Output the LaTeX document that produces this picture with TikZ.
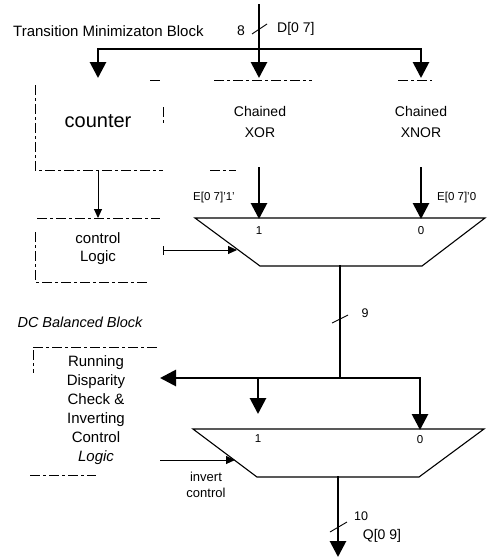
\documentclass[tikz,border=0pt]{standalone}
\usepackage{fontspec}
\setmainfont{Liberation Sans}
\usetikzlibrary{arrows.meta}
\begin{document}
\begin{tikzpicture}[x=1pt,y=-1pt,
  bus/.style={line width=2.8pt,line cap=rect},
  thinline/.style={line width=0.9pt},
  bigtip/.style={-{Triangle[width=16pt,length=16pt]}},
  smalltip/.style={-{Triangle[width=8pt,length=9pt]}},
  dsh/.style={line width=0.8pt,dash pattern=on 10pt off 3pt on 3pt off 3pt},
  lbl/.style={inner sep=0pt,font=\fontsize{11.5}{13}\selectfont},
  biglbl/.style={inner sep=0pt,font=\fontsize{14}{16}\selectfont},
  muxline/.style={line width=1.1pt,line join=miter}]
\useasboundingbox (0,0) rectangle (500,557);

% ---------- coordinates ----------
\coordinate (Din) at (259,5);
\coordinate (Dj) at (259,49);
\coordinate (bl) at (98,49);
\coordinate (br) at (421,49);
\coordinate (cntIn) at (98,78);
\coordinate (xorIn) at (259,78);
\coordinate (xnorIn) at (421,78);
\coordinate (cntOut) at (98,170);
\coordinate (ctlIn) at (98,218);
\coordinate (xorOut) at (259,168);
\coordinate (xnorOut) at (421,168);
% mux 1
\coordinate (m1a) at (195,218);
\coordinate (m1b) at (485,218);
\coordinate (m1c) at (422,266);
\coordinate (m1d) at (260,266);
\coordinate (m1in1) at (259,219);
\coordinate (m1in0) at (421,219);
\coordinate (m1sel) at (237,250);
\coordinate (ctlOut) at (163,250);
\coordinate (m1out) at (340,266);
% bus 2
\coordinate (bj) at (340,378);
\coordinate (bR) at (420,378);
\coordinate (bM) at (258,378);
\coordinate (rdcIn) at (160,378);
% mux 2
\coordinate (m2a) at (193,429);
\coordinate (m2b) at (484,429);
\coordinate (m2c) at (419,477);
\coordinate (m2d) at (257,477);
\coordinate (m2in1) at (258,414);
\coordinate (m2in0) at (420,430);
\coordinate (m2sel) at (235,460);
\coordinate (rdcOut) at (160,460);
\coordinate (m2out) at (338,477);
\coordinate (Qout) at (338,557);

% ---------- texts ----------
\node[lbl,font=\fontsize{15}{17}\selectfont,anchor=west] (title1) at (13,31) {Transition Minimizaton Block};
\node[biglbl] (n8) at (241,31) {8};
\node[biglbl,anchor=west] (dlab) at (277,29) {D[0 7]};
\node[inner sep=0pt,font=\fontsize{20}{22}\selectfont] (cnt) at (98,121) {counter};
\node[inner sep=0pt,align=center,font=\fontsize{14}{21}\selectfont] (xor) at (260,122) {Chained\\XOR};
\node[inner sep=0pt,align=center,font=\fontsize{14}{21}\selectfont] (xnor) at (421,122) {Chained\\XNOR};
\node[lbl,anchor=east] (e1) at (235,198) {E[0 7]'1'};
\node[lbl,anchor=west] (e0) at (437,198) {E[0 7]'0};
\node[inner sep=0pt,align=center,font=\fontsize{15}{18}\selectfont] (ctl) at (98,249) {control\\Logic};
\node[lbl] (m1l1) at (259,231) {1};
\node[lbl] (m1l0) at (421,231) {0};
\node[lbl,font=\fontsize{12.5}{14}\selectfont] (n9) at (365,313) {9};
\node[inner sep=0pt,font=\fontsize{14.5}{16}\selectfont\itshape] (dctitle) at (80,322) {DC Balanced Block};
\node[inner sep=0pt,align=center,font=\fontsize{15}{19}\selectfont] (rdc) at (96,410) {Running\\Disparity\\Check \&\\Inverting\\Control\\\textit{Logic}};
\node[lbl] (m2l1) at (258,439) {1};
\node[lbl] (m2l0) at (420,440) {0};
\node[inner sep=0pt,align=center,font=\fontsize{13}{16}\selectfont] (inv) at (206,485) {invert\\control};
\node[lbl,font=\fontsize{12.5}{14}\selectfont] (n10) at (361,516) {10};
\node[biglbl] (qlab) at (382,536) {Q[0 9]};

% ---------- dashed block outlines ----------
\draw[dsh] (150,80) -- (160,80);
\draw[dsh] (214,80) -- (312,80);
\draw[dsh] (398,80) -- (432,80);
\draw[dsh] (35,85) -- (35,170) -- (163,170);
\draw[dsh] (210,170) -- (236,170);
\draw[dsh] (163,107) -- (163,125);
\draw[dsh] (37,218) -- (160,218);
\draw[dsh] (35,232) -- (35,282) -- (148,282);
\draw[dsh] (33,347) -- (158,347);
\draw[dsh] (33,350) -- (33,373);
\draw[dsh] (30,475) -- (96,475);

% ---------- top bus ----------
\draw[bus] (Din) -- (Dj);
\draw[bus] (bl) -- (br);
\draw[bus,bigtip] (bl) -- (cntIn);
\draw[bus,bigtip] (Dj) -- (xorIn);
\draw[bus,bigtip] (br) -- (xnorIn);
\draw[thinline] (252,34) -- (267,24);

% ---------- counter -> control ----------
\draw[thinline,smalltip] (cntOut) -- (ctlIn);

% ---------- mux 1 ----------
\draw[muxline] (m1a) -- (m1b) -- (m1c) -- (m1d) -- cycle;
\draw[bus,bigtip] (xorOut) -- (m1in1);
\draw[bus,bigtip] (xnorOut) -- (m1in0);
\draw[thinline,{Bar[width=9pt]}-{Triangle[width=8pt,length=9pt]}] (ctlOut) -- (m1sel);
\draw[bus] (m1out) -- (bj);
\draw[thinline] (332,323) -- (348,315);

% ---------- bus 2 ----------
\draw[bus,bigtip] (bR) -- (rdcIn);
\draw[bus,bigtip] (bR) -- (m2in0);
\draw[bus,bigtip] (bM) -- (m2in1);

% ---------- mux 2 ----------
\draw[muxline] (m2a) -- (m2b) -- (m2c) -- (m2d) -- cycle;
\draw[thinline,smalltip] (rdcOut) -- (m2sel);
\draw[bus,bigtip] (m2out) -- (Qout);
\draw[thinline] (330,532) -- (347,522);
\end{tikzpicture}
\end{document}
